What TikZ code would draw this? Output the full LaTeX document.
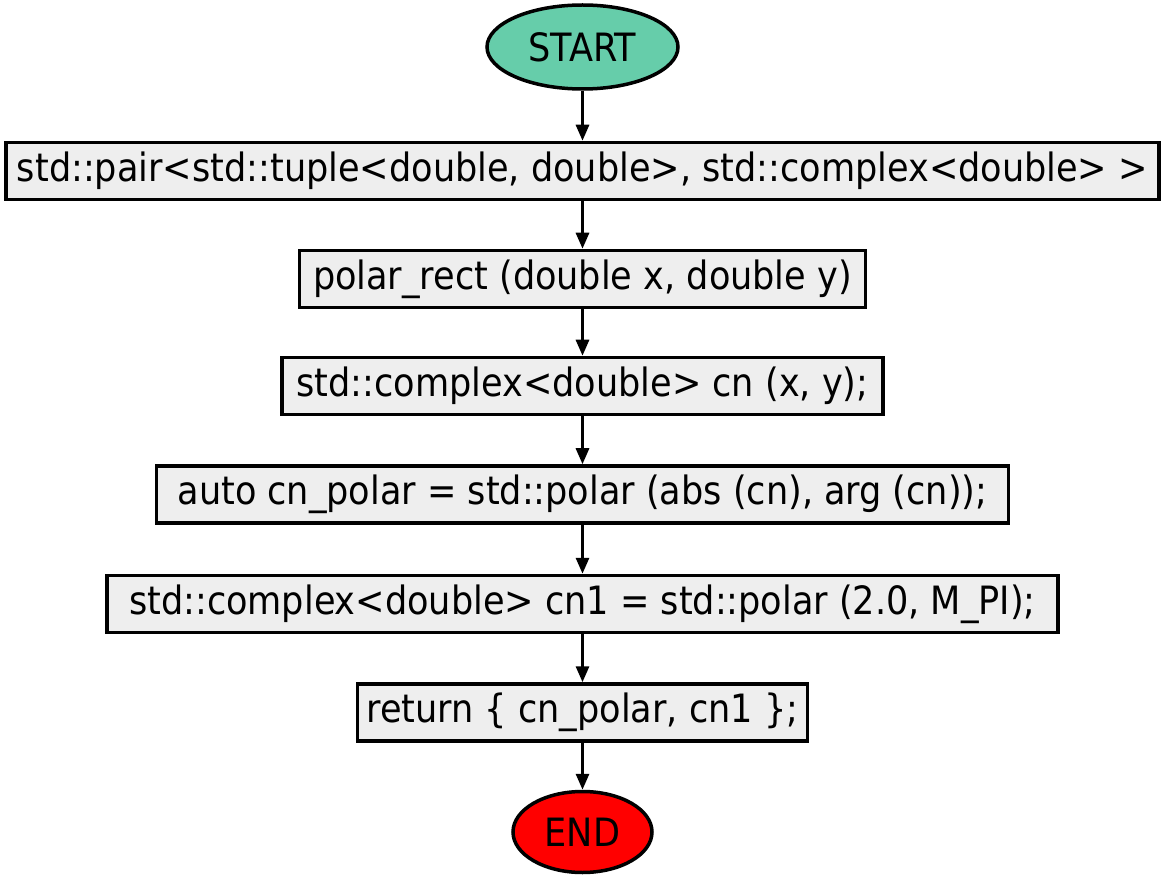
\documentclass[tikz,border=0pt]{standalone}
\usepackage{fontspec}
\setmainfont{DejaVu Sans Condensed}
\usetikzlibrary{shapes.geometric,arrows.meta}
\definecolor{startc}{HTML}{66CDAA}
\definecolor{endc}{HTML}{FF0000}
\definecolor{boxc}{HTML}{EEEEEE}
\begin{document}
\begin{tikzpicture}[x=1pt,y=-1pt,
  term/.style={ellipse,draw=black,line width=3.5pt,inner sep=0pt,font=\fontsize{39}{44}\selectfont},
  proc/.style={rectangle,draw=black,line width=3.5pt,fill=boxc,inner sep=0pt,minimum height=57pt,font=\fontsize{39}{44}\selectfont},
  flow/.style={line width=3pt,-{Triangle[length=16pt,width=13pt]}}]
\useasboundingbox (0,0) rectangle (1165,882);
\node[term,fill=startc,minimum width=191pt,minimum height=84pt] (start) at (582.5,47) {START};
\node[proc,minimum width=1153pt] (b1) at (582.5,171) {std::pair<std::tuple<double, double>, std::complex<double> >};
\node[proc,minimum width=566pt] (b2) at (582.5,279) {polar\_rect (double x, double y)};
\node[proc,minimum width=601pt] (b3) at (582.5,386) {std::complex<double> cn (x, y);};
\node[proc,minimum width=852pt] (b4) at (582.5,494.5) {auto cn\_polar = std::polar (abs (cn), arg (cn));};
\node[proc,minimum width=951pt] (b5) at (582.5,604) {std::complex<double> cn1 = std::polar (2.0, M\_PI);};
\node[proc,minimum width=450pt] (b6) at (582.5,712.5) {return \{ cn\_polar, cn1 \};};
\node[term,fill=endc,minimum width=139pt,minimum height=81pt] (end) at (582.5,832) {END};
\draw[flow] (start) -- (b1);
\draw[flow] (b1) -- (b2);
\draw[flow] (b2) -- (b3);
\draw[flow] (b3) -- (b4);
\draw[flow] (b4) -- (b5);
\draw[flow] (b5) -- (b6);
\draw[flow] (b6) -- (end);
\end{tikzpicture}
\end{document}
